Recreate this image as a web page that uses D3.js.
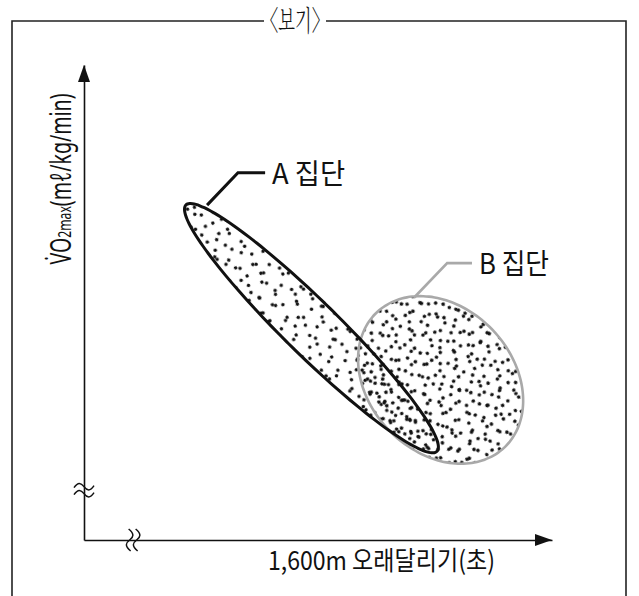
<!DOCTYPE html>
<html><head><meta charset="utf-8">
<script src="https://cdn.jsdelivr.net/npm/d3@7"></script>
<style>body{margin:0;background:#fff} svg{display:block}</style>
</head><body><svg id="c" width="639" height="596"></svg>
<script>
// ---- data (abstract units: 0..100 on each axis, no ticks shown) ----
const groups = ["A 집단", "B 집단"];
const groupCenterX = [48.6, 76.2];
const groupCenterY = [44.6, 33.7];
const groupSpreadMajor = [37.3, 19.7];
const groupSpreadMinor = [5.75, 15.3];
const groupAngle = [-44, -45];
const leaderX = [[26.3, 32.9, 38.7], [70.5, 77.6, 82.9]];
const leaderY = [[70.5, 77.3, 77.3], [51.0, 58.3, 58.3]];
const axisBreak = 10.5;
const titleText = "〈보기〉";
const xLabel = "1,600m 오래달리기(초)";
const yLabelParts = ["V\u0307O", "2max", "(mℓ/kg/min)"];
// stipple tile (texture only)
const stippleTile = [[2.1,4.6],[8.3,2.2],[15.9,4.9],[20.4,2.8],[27.2,5.3],
  [4.4,11.9],[10.2,9.6],[14.1,12.8],[22.3,10.1],[26.6,13.4],
  [2.6,19.4],[9.5,20.3],[16.8,17.4],[20.9,20.9],[28.1,17.6],
  [5.2,26.9],[10.8,25.9],[14.6,27.8],[23.0,25.6],[27.5,28.4]];
// two stipple layers per group: [rotation, scale, dx, dy]
const stippleLayers = [
  [[8, 2.1, 3, 1], [57, 2.1, 17, 29]],
  [[-21, 1.75, 11, 7], [33, 1.75, 5, 23]]
];

const svg = d3.select("#c");
const x = d3.scaleLinear().domain([0, 100]).range([84, 552]);
const y = d3.scaleLinear().domain([0, 100]).range([540, 65]);
const KR = "'Noto Sans CJK KR','Noto Sans',sans-serif";

// ---- frame with title ----
const title = svg.append("text").attr("x", 295).attr("y", 31)
  .attr("text-anchor", "middle").attr("font-family", "'Noto Serif CJK KR'," + KR)
  .attr("font-weight", 300).attr("font-size", 28).attr("fill", "#111")
  .attr("textLength", 68).attr("lengthAdjust", "spacingAndGlyphs").text(titleText);
const tb = title.node().getBBox();
const frame = svg.append("g").attr("stroke", "#222").attr("stroke-width", 1.6).attr("fill", "none");
frame.append("path").attr("d", `M12,596V21H${tb.x + 3}`);
frame.append("path").attr("d", `M${tb.x + tb.width - 3},21H626V596`);

// ---- stipple patterns ----
const defs = svg.append("defs");
function makePattern(id, r, rot, sc, tx, ty) {
  const p = defs.append("pattern").attr("id", id).attr("patternUnits", "userSpaceOnUse")
    .attr("width", 30).attr("height", 30)
    .attr("patternTransform", `translate(${tx},${ty}) rotate(${rot}) scale(${sc})`);
  p.selectAll("circle").data(stippleTile).join("circle")
    .attr("cx", d => d[0]).attr("cy", d => d[1]).attr("r", r / sc).attr("fill", "#111");
}
const dotR = [1.75, 1.8];

function ellipsePts(i) {
  const th = groupAngle[i] * Math.PI / 180;
  return d3.range(0, 360, 4).map(t => {
    const a = t * Math.PI / 180;
    const u = groupSpreadMajor[i] * Math.cos(a), v = groupSpreadMinor[i] * Math.sin(a);
    return [x(groupCenterX[i] + u * Math.cos(th) - v * Math.sin(th)),
            y(groupCenterY[i] + u * Math.sin(th) + v * Math.cos(th))];
  });
}
const shape = d3.line().curve(d3.curveCardinalClosed);
groups.forEach((g, i) => {
  defs.append("clipPath").attr("id", "clip" + i).append("path").attr("d", shape(ellipsePts(i)));
  stippleLayers[i].forEach((L, k) => {
    const id = `dots${i}_${k}`;
    makePattern(id, dotR[i], L[0], L[1], L[2], L[3]);
    svg.append("rect").attr("x", 0).attr("y", 0).attr("width", 639).attr("height", 596)
      .attr("fill", `url(#${id})`).attr("clip-path", `url(#clip${i})`);
  });
});

const strokes = ["#111", "#a9a9a9"];
const widths = [3, 2.6];
[1, 0].forEach(i => {
  svg.append("path").attr("d", shape(ellipsePts(i))).attr("fill", "none")
    .attr("stroke", strokes[i]).attr("stroke-width", widths[i]);
});

// ---- leaders + labels ----
const labelW = [73, 70];
groups.forEach((g, i) => {
  const pts = leaderX[i].map((lx, k) => [x(lx), y(leaderY[i][k])]);
  svg.append("path").attr("d", d3.line()(pts)).attr("fill", "none")
    .attr("stroke", strokes[i]).attr("stroke-width", widths[i]);
  const end = pts[pts.length - 1];
  svg.append("text").attr("x", end[0] + 7).attr("y", end[1] + 11)
    .attr("font-family", KR).attr("font-size", 28).attr("fill", "#111")
    .attr("textLength", labelW[i]).attr("lengthAdjust", "spacingAndGlyphs").text(g);
});

// ---- axes ----
const ax = svg.append("g").attr("stroke", "#111").attr("stroke-width", 1.6).attr("fill", "none");
svg.append("g").attr("transform", `translate(0,${y(0)})`)
  .call(d3.axisBottom(x).tickValues([]).tickSizeOuter(0))
  .call(g => g.select(".domain").attr("stroke", "#111").attr("stroke-width", 1.6));
svg.append("g").attr("transform", `translate(${x(0)},0)`)
  .call(d3.axisLeft(y).tickValues([]).tickSizeOuter(0))
  .call(g => g.select(".domain").attr("stroke", "#111").attr("stroke-width", 1.6));
const xt = x(100), yt = y(100);
svg.append("path").attr("d", `M${xt},${y(0)}L${xt - 17},${y(0) - 6}L${xt - 17},${y(0) + 6}Z`).attr("fill", "#111");
svg.append("path").attr("d", `M${x(0)},${yt}L${x(0) - 6},${yt + 17}L${x(0) + 6},${yt + 17}Z`).attr("fill", "#111");
const by = y(axisBreak), bx = x(axisBreak);
[-3.5, 3.5].forEach(o => {
  ax.append("path").attr("d", `M${x(0) - 10},${by + o + 1} C${x(0) - 6},${by + o - 5} ${x(0) - 3},${by + o - 4} ${x(0)},${by + o} S${x(0) + 6},${by + o + 5} ${x(0) + 10},${by + o - 1}`)
    .attr("stroke-width", 1.5);
  ax.append("path").attr("d", `M${bx + o - 1},${y(0) - 11} C${bx + o + 5},${y(0) - 6} ${bx + o + 4},${y(0) - 3} ${bx + o},${y(0)} S${bx + o - 5},${y(0) + 6} ${bx + o + 1},${y(0) + 11}`)
    .attr("stroke-width", 1.5);
});

// ---- axis titles ----
svg.append("text").attr("x", 268).attr("y", 570)
  .attr("font-family", KR).attr("font-size", 26).attr("fill", "#111")
  .attr("textLength", 227).attr("lengthAdjust", "spacingAndGlyphs").text(xLabel);

const yl = svg.append("text").attr("transform", "translate(71,179) rotate(-90)")
  .attr("text-anchor", "middle").attr("font-family", "'Noto Sans','Liberation Sans',sans-serif")
  .attr("fill", "#111").attr("font-size", 29);
yl.append("tspan").text(yLabelParts[0]);
yl.append("tspan").attr("font-size", 18).text(yLabelParts[1]);
yl.append("tspan").text(yLabelParts[2]);
yl.attr("textLength", 171).attr("lengthAdjust", "spacingAndGlyphs");
</script></body></html>
